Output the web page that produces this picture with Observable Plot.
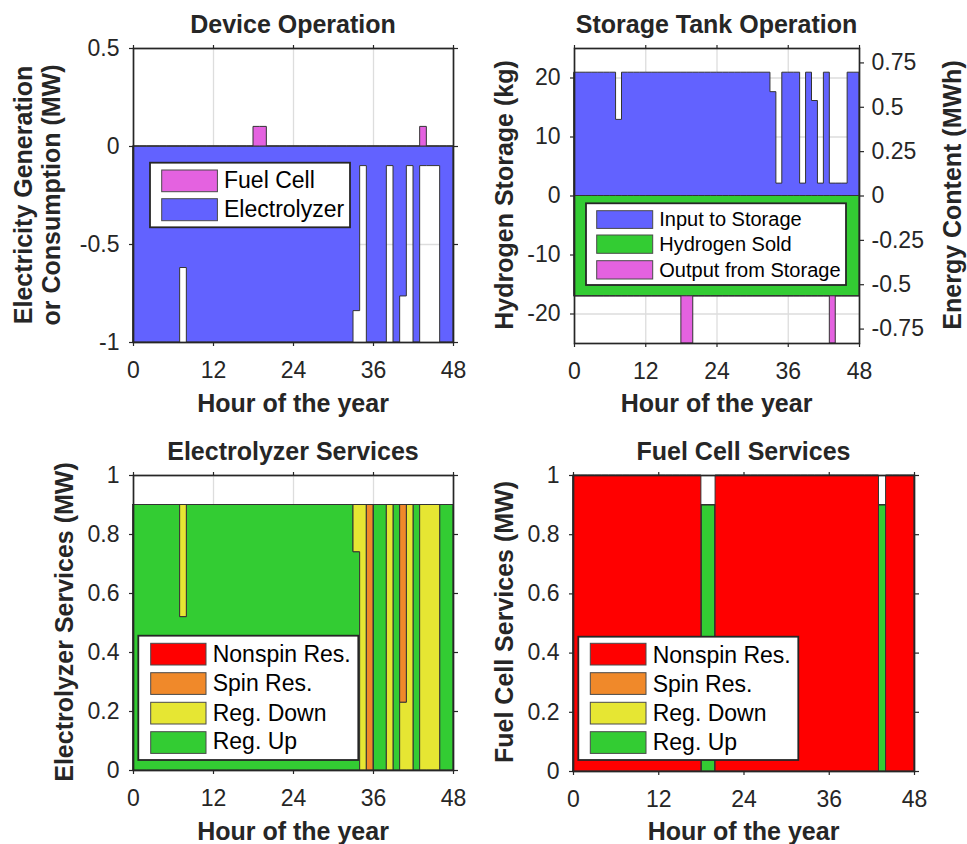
<!DOCTYPE html>
<html><head><meta charset="utf-8">
<script src="https://cdn.jsdelivr.net/npm/d3@7"></script>
<script src="https://cdn.jsdelivr.net/npm/@observablehq/plot@0.6"></script>
<style>
body{margin:0;background:#fff;}
#wrap{position:relative;width:967px;height:844px;overflow:hidden;background:#fff;}
#wrap > svg{position:absolute;}
</style></head><body><div id="wrap"></div>
<script>
// ---------------- DATA ----------------
const hourTicks = [0, 12, 24, 36, 48];
const deviceTicks = [-1, -0.5, 0, 0.5];
const storageTicksKg = [-20, -10, 0, 10, 20];
const storageTicksMWh = [-0.75, -0.5, -0.25, 0, 0.25, 0.5, 0.75];
const serviceTicks = [0, 0.2, 0.4, 0.6, 0.8, 1];

// hourly values, hours 0..47
const electrolyzerMW = [
  -1,-1,-1,-1,-1,-1,-1,-0.62,-1,-1,-1,-1,
  -1,-1,-1,-1,-1,-1,-1,-1,-1,-1,-1,-1,
  -1,-1,-1,-1,-1,-1,-1,-1,-1,-0.84,-0.1,-1,
  -1,-1,-0.1,-1,-0.765,-0.1,-1,-0.1,-0.1,-0.1,-1,-1];
const fuelCellMW = [
  0,0,0,0,0,0,0,0,0,0,0,0,
  0,0,0,0,0,0,0.1,0.1,0,0,0,0,
  0,0,0,0,0,0,0,0,0,0,0,0,
  0,0,0,0,0,0,0,0.1,0,0,0,0];

const inputToStorageKg = [
  20.9,20.9,20.9,20.9,20.9,20.9,20.9,12.9,20.9,20.9,20.9,20.9,
  20.9,20.9,20.9,20.9,20.9,20.9,20.9,20.9,20.9,20.9,20.9,20.9,
  20.9,20.9,20.9,20.9,20.9,20.9,20.9,20.9,20.9,17.6,2.1,20.9,
  20.9,20.9,2.1,20.9,16.1,2.1,20.9,2.1,2.1,2.1,20.9,20.9];
const hydrogenSoldKg = [
  -17,-17,-17,-17,-17,-17,-17,-17,-17,-17,-17,-17,
  -17,-17,-17,-17,-17,-17,-17,-17,-17,-17,-17,-17,
  -17,-17,-17,-17,-17,-17,-17,-17,-17,-17,-17,-17,
  -17,-17,-17,-17,-17,-17,-17,-17,-17,-17,-17,-17];
const outputFromStorageKg = [
  0,0,0,0,0,0,0,0,0,0,0,0,
  0,0,0,0,0,0,-8,-8,0,0,0,0,
  0,0,0,0,0,0,0,0,0,0,0,0,
  0,0,0,0,0,0,0,-8,0,0,0,0];

const elRegUp = [
  0.9,0.9,0.9,0.9,0.9,0.9,0.9,0.52,0.9,0.9,0.9,0.9,
  0.9,0.9,0.9,0.9,0.9,0.9,0.9,0.9,0.9,0.9,0.9,0.9,
  0.9,0.9,0.9,0.9,0.9,0.9,0.9,0.9,0.9,0.74,0,0,
  0.9,0.9,0,0.9,0,0,0.9,0,0,0,0.9,0.9];
const elRegDown = [
  0,0,0,0,0,0,0,0.38,0,0,0,0,
  0,0,0,0,0,0,0,0,0,0,0,0,
  0,0,0,0,0,0,0,0,0,0.16,0.9,0,
  0,0,0.9,0,0.23,0.9,0,0.9,0.9,0.9,0,0];
const elSpin = [
  0,0,0,0,0,0,0,0,0,0,0,0,
  0,0,0,0,0,0,0,0,0,0,0,0,
  0,0,0,0,0,0,0,0,0,0,0,0.9,
  0,0,0,0,0.67,0,0,0,0,0,0,0];
const elNonspin = [
  0,0,0,0,0,0,0,0,0,0,0,0,
  0,0,0,0,0,0,0,0,0,0,0,0,
  0,0,0,0,0,0,0,0,0,0,0,0,
  0,0,0,0,0,0,0,0,0,0,0,0];

const fcRegUp = [
  0,0,0,0,0,0,0,0,0,0,0,0,
  0,0,0,0,0,0,0.9,0.9,0,0,0,0,
  0,0,0,0,0,0,0,0,0,0,0,0,
  0,0,0,0,0,0,0,0.9,0,0,0,0];
const fcRegDown = [
  0,0,0,0,0,0,0,0,0,0,0,0,
  0,0,0,0,0,0,0,0,0,0,0,0,
  0,0,0,0,0,0,0,0,0,0,0,0,
  0,0,0,0,0,0,0,0,0,0,0,0];
const fcSpin = [
  0,0,0,0,0,0,0,0,0,0,0,0,
  0,0,0,0,0,0,0,0,0,0,0,0,
  0,0,0,0,0,0,0,0,0,0,0,0,
  0,0,0,0,0,0,0,0,0,0,0,0];
const fcNonspin = [
  1,1,1,1,1,1,1,1,1,1,1,1,
  1,1,1,1,1,1,0,0,1,1,1,1,
  1,1,1,1,1,1,1,1,1,1,1,1,
  1,1,1,1,1,1,1,0,1,1,1,1];

const deviceLegend = ["Fuel Cell", "Electrolyzer"];
const storageLegend = ["Input to Storage", "Hydrogen Sold", "Output from Storage"];
const serviceLegend = ["Nonspin Res.", "Spin Res.", "Reg. Down", "Reg. Up"];
const titles = ["Device Operation", "Storage Tank Operation", "Electrolyzer Services", "Fuel Cell Services"];
const xLabel = "Hour of the year";

// ---------------- STYLE ----------------
const C = {blue:"#6262ff", pink:"#e462e0", green:"#33cc33", red:"#ff0000", orange:"#f0892a", yellow:"#e6e633"};
const serviceColors = [C.red, C.orange, C.yellow, C.green]; // legend order
const FONT = "'Liberation Sans', Arial, Helvetica, sans-serif";
const AX = "#262626";
const EDGE = "#333333";
const GRID = "#dddddd";

// step rows: hours 0..48 (last value repeated for the closing step)
function stepRows(values, name) {
  const out = [];
  for (let i = 0; i <= values.length; i++) out.push({hour: i, value: values[Math.min(i, values.length - 1)], series: name});
  return out;
}
function bandRows(lo, hi, name) {
  const out = [];
  for (let i = 0; i <= lo.length; i++) {
    const k = Math.min(i, lo.length - 1);
    out.push({hour: i, y1: lo[k], y2: lo[k] + hi[k], series: name});
  }
  return out;
}
function zeroRows(values) { return values.map(v => 0); }

function frameAxes(yTicks, opts = {}) {
  const fmt = d => String(d);
  const marks = [
    Plot.axisX({anchor: "bottom", ticks: hourTicks, tickFormat: fmt, tickSize: 4, tickPadding: 15, label: null, stroke: AX, strokeWidth: 1.2}),
    Plot.axisX({anchor: "top", ticks: hourTicks, tickFormat: () => "", tickSize: 4, label: null, stroke: AX, strokeWidth: 1.2}),
    Plot.axisY({anchor: "left", ticks: yTicks, tickFormat: fmt, tickSize: 4, tickPadding: 10, label: null, stroke: AX, strokeWidth: 1.2})
  ];
  if (!opts.noRight) marks.push(Plot.axisY({anchor: "right", ticks: yTicks, tickFormat: () => "", tickSize: 4, label: null, stroke: AX, strokeWidth: 1.2}));
  marks.push(Plot.frame({stroke: AX, strokeWidth: 1.7}));
  return marks;
}
const svgStyle = {fontFamily: FONT, fontSize: "23px", color: AX, background: "transparent", overflow: "visible"};

const wrap = document.getElementById("wrap");
function place(svg, left, top) { svg.style.left = left + "px"; svg.style.top = top + "px"; svg.style.position = "absolute"; wrap.appendChild(svg); }

// ---------- Panel 1: Device Operation ----------
const p1 = Plot.plot({
  width: 480, height: 420, marginLeft: 133, marginRight: 27, marginTop: 48, marginBottom: 78,
  style: svgStyle,
  x: {domain: [0, 48]}, y: {domain: [-1, 0.5]},
  marks: [
    Plot.gridX({ticks: [12, 24, 36], stroke: GRID, strokeOpacity: 1, strokeWidth: 1.3}),
    Plot.gridY({ticks: deviceTicks, stroke: GRID, strokeOpacity: 1, strokeWidth: 1.3}),
    Plot.areaY(stepRows(electrolyzerMW, "Electrolyzer"), {x: "hour", y: "value", curve: "step-after", fill: C.blue, stroke: EDGE, strokeWidth: 1}),
    Plot.areaY(stepRows(fuelCellMW, "Fuel Cell"), {x: "hour", y: "value", curve: "step-after", fill: C.pink, stroke: EDGE, strokeWidth: 1}),
    ...frameAxes(deviceTicks)
  ]
});
place(p1, 0, 0);

// ---------- Panel 2: Storage Tank Operation ----------
const storageRows = [
  ...bandRows(zeroRows(inputToStorageKg), inputToStorageKg, "in"),
  ...bandRows(zeroRows(hydrogenSoldKg), hydrogenSoldKg, "sold"),
  ...bandRows(hydrogenSoldKg, outputFromStorageKg, "out")
];
const p2 = Plot.plot({
  width: 487, height: 420, marginLeft: 94, marginRight: 108, marginTop: 48, marginBottom: 77,
  style: svgStyle,
  x: {domain: [0, 48]}, y: {domain: [-25, 25]},
  color: {domain: ["in", "sold", "out"], range: [C.blue, C.green, C.pink]},
  marks: [
    Plot.gridX({ticks: [12, 24, 36], stroke: GRID, strokeOpacity: 1, strokeWidth: 1.3}),
    Plot.gridY({ticks: storageTicksKg, stroke: GRID, strokeOpacity: 1, strokeWidth: 1.3}),
    Plot.areaY(storageRows, {x: "hour", y1: "y1", y2: "y2", z: "series", fill: "series", curve: "step-after", stroke: EDGE, strokeWidth: 1}),
    ...frameAxes(storageTicksKg, {noRight: true})
  ]
});
place(p2, 480, 0);
// right axis: energy content (MWh), its own scale
const kgToMWh = 0.03325;
const p2r = Plot.plot({
  width: 487, height: 420, marginLeft: 94, marginRight: 108, marginTop: 48, marginBottom: 77,
  style: svgStyle,
  y: {domain: [-25 * kgToMWh, 25 * kgToMWh]},
  marks: [
    Plot.axisY({anchor: "right", ticks: storageTicksMWh, tickFormat: d => String(d), tickSize: 4, tickPadding: 8, label: null, stroke: AX, strokeWidth: 1.2})
  ]
});
place(p2r, 480, 0);

// ---------- Panel 3 & 4: services ----------
const stackOrder = ["Reg. Up", "Reg. Down", "Spin Res.", "Nonspin Res."];
function servicePlot(up, down, spin, nonspin, w, ml, mr, mb) {
  const rows = [
    ...stepRows(up, "Reg. Up"), ...stepRows(down, "Reg. Down"),
    ...stepRows(spin, "Spin Res."), ...stepRows(nonspin, "Nonspin Res.")
  ];
  return Plot.plot({
    width: w, height: 414, marginLeft: ml, marginRight: mr, marginTop: 45, marginBottom: mb,
    style: svgStyle,
    x: {domain: [0, 48]}, y: {domain: [0, 1]},
    color: {domain: serviceLegend, range: serviceColors},
    marks: [
      Plot.gridX({ticks: [12, 24, 36], stroke: GRID, strokeOpacity: 1, strokeWidth: 1.3}),
      Plot.gridY({ticks: serviceTicks, stroke: GRID, strokeOpacity: 1, strokeWidth: 1.3}),
      Plot.areaY(rows, {x: "hour", y: "value", z: "series", fill: "series", order: stackOrder, curve: "step-after", stroke: EDGE, strokeWidth: 1}),
      ...frameAxes(serviceTicks)
    ]
  });
}
place(servicePlot(elRegUp, elRegDown, elSpin, elNonspin, 480, 133, 27, 74), 0, 430);
place(servicePlot(fcRegUp, fcRegDown, fcSpin, fcNonspin, 487, 93, 53, 73), 480, 430);

// ---------------- TEXT & LEGENDS overlay ----------------
const ov = d3.select(wrap).append("svg")
  .attr("width", 967).attr("height", 844)
  .style("left", "0px").style("top", "0px").style("position", "absolute")
  .attr("font-family", FONT);

function text(x, y, s, size, weight, anchor = "middle", rot = 0) {
  ov.append("text").attr("transform", `translate(${x},${y}) rotate(${rot})`)
    .attr("text-anchor", anchor).attr("font-size", size).attr("font-weight", weight)
    .attr("fill", rot || weight === "bold" ? "#262626" : "#000").text(s);
}
// titles
text(293, 33, titles[0], 25, "bold");
text(716.5, 33, titles[1], 25, "bold");
text(293, 459.5, titles[2], 25, "bold");
text(743.5, 459.5, titles[3], 25, "bold");
// x labels
text(293, 411.5, xLabel, 25, "bold");
text(716.5, 411.5, xLabel, 25, "bold");
text(293, 839.5, xLabel, 25, "bold");
text(743.5, 839.5, xLabel, 25, "bold");
// y labels
text(31.5, 195, "Electricity Generation", 25, "bold", "middle", -90);
text(60, 195, "or Consumption (MW)", 25, "bold", "middle", -90);
text(513, 195, "Hydrogen Storage (kg)", 25, "bold", "middle", -90);
text(961, 195, "Energy Content (MWh)", 25, "bold", "middle", -90);
text(73, 622, "Electrolyzer Services (MW)", 25, "bold", "middle", -90);
text(513, 622, "Fuel Cell Services (MW)", 25, "bold", "middle", -90);

function legend(box, swX, swW, textX, fontSize, items) {
  ov.append("rect").attr("x", box[0]).attr("y", box[1]).attr("width", box[2] - box[0]).attr("height", box[3] - box[1])
    .attr("fill", "#fff").attr("stroke", "#262626").attr("stroke-width", 1.8);
  for (const it of items) {
    ov.append("rect").attr("x", swX).attr("y", it.y).attr("width", swW).attr("height", it.h)
      .attr("fill", it.color).attr("stroke", "#4a4a4a").attr("stroke-width", 1);
    ov.append("text").attr("x", textX).attr("y", it.base).attr("font-size", fontSize).attr("fill", "#000").text(it.label);
  }
}
legend([150, 162.7, 350, 227.3], 161.7, 55.7, 224, 23, [
  {label: deviceLegend[0], color: C.pink, y: 170, h: 21.7, base: 188.3},
  {label: deviceLegend[1], color: C.blue, y: 198.7, h: 22, base: 216.7}
]);
legend([586, 203.3, 846, 285], 596.7, 56, 659.3, 20, [
  {label: storageLegend[0], color: C.blue, y: 210.7, h: 17.7, base: 226},
  {label: storageLegend[1], color: C.green, y: 235, h: 18.3, base: 251},
  {label: storageLegend[2], color: C.pink, y: 260.7, h: 18.3, base: 276.5}
]);
const svcRows = [[643.3, 662.3], [672.7, 691.3], [702.3, 720.7], [731.7, 749.3]];
legend([138.3, 635.7, 358.3, 760], 150.7, 55.3, 212.7, 23,
  serviceLegend.map((l, i) => ({label: l, color: serviceColors[i], y: svcRows[i][0], h: 21.7, base: svcRows[i][1]})));
legend([578.3, 636.7, 798.3, 760], 590.3, 55.7, 652.7, 23,
  serviceLegend.map((l, i) => ({label: l, color: serviceColors[i], y: svcRows[i][0], h: 21.7, base: svcRows[i][1] + 0.4})));
</script>
</body></html>
